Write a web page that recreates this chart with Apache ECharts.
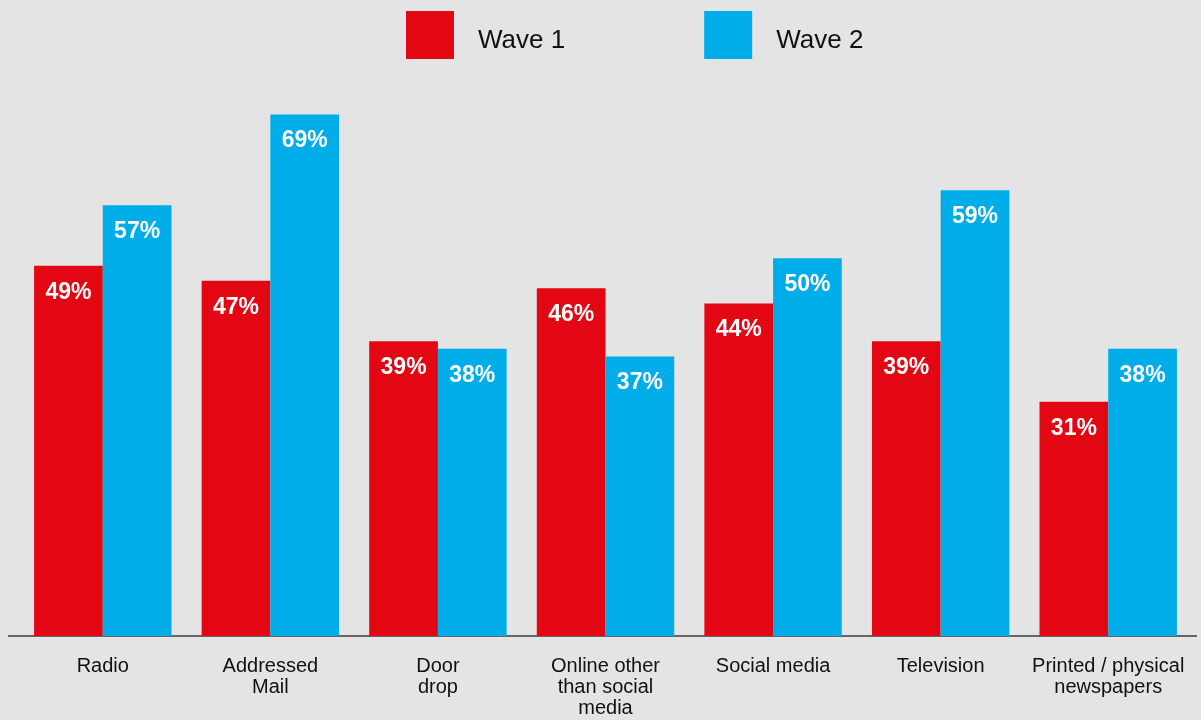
<!DOCTYPE html>
<html>
<head>
<meta charset="utf-8">
<style>
  html, body { margin: 0; padding: 0; background: #e3e4e3; }
  #chart { width: 1201px; height: 720px; }
</style>
<script src="https://cdn.jsdelivr.net/npm/echarts@6/dist/echarts.min.js"></script>
</head>
<body>
<div id="chart"></div>
<script>
// Channels shown along the bottom axis
const categories = [
  'Radio',
  'Addressed\nMail',
  'Door\ndrop',
  'Online other\nthan social\nmedia',
  'Social media',
  'Television',
  'Printed / physical\nnewspapers'
];
// Share of respondents, percent
const wave1 = [49, 47, 39, 46, 44, 39, 31];
const wave2 = [57, 69, 38, 37, 50, 59, 38];

const FONT = '"Liberation Sans", Arial, Helvetica, sans-serif';
const RED = '#e30613';
const BLUE = '#00ade8';

const chart = echarts.init(document.getElementById('chart'), null, { renderer: 'canvas' });

const barLabel = {
  show: true,
  position: 'insideTop',
  distance: 15,
  color: '#ffffff',
  fontFamily: FONT,
  fontWeight: 'bold',
  fontSize: 23,
  formatter: p => p.value + '%'
};

chart.setOption({
  backgroundColor: '#e3e4e3',
  animation: false,
  legend: {
    top: 11,
    left: 406,
    padding: 0,
    itemWidth: 48,
    itemHeight: 48,
    itemGap: 139,
    icon: 'rect',
    formatter: '{t|{name}}',
    textStyle: {
      fontFamily: FONT,
      fontSize: 26,
      color: '#111111',
      padding: [0, 0, 0, 19],
      rich: {
        t: {
          fontFamily: FONT,
          fontSize: 26,
          color: '#111111',
          padding: [12, 0, 0, 0]
        }
      }
    },
    data: ['Wave 1', 'Wave 2']
  },
  grid: { left: 19, right: 9, top: 107, bottom: 84 },
  xAxis: {
    type: 'category',
    data: categories,
    axisTick: { show: false },
    axisLine: { show: true, lineStyle: { color: '#666666', width: 2 } },
    axisLabel: {
      interval: 0,
      margin: 20,
      fontFamily: FONT,
      fontSize: 20,
      lineHeight: 21,
      color: '#111111',
      align: 'center'
    }
  },
  yAxis: {
    type: 'value',
    min: 0,
    max: 70,
    show: false,
    splitLine: { show: false }
  },
  series: [
    {
      name: 'Wave 1',
      type: 'bar',
      data: wave1,
      barGap: '0%',
      barCategoryGap: '18%',
      itemStyle: { color: RED },
      label: barLabel
    },
    {
      name: 'Wave 2',
      type: 'bar',
      data: wave2,
      barGap: '0%',
      barCategoryGap: '18%',
      itemStyle: { color: BLUE },
      label: barLabel
    }
  ]
});

// Extend the baseline a little past both ends of the plot area
const base = chart.convertToPixel({ gridIndex: 0 }, [0, 0]);
const leftEdge = chart.convertToPixel({ xAxisIndex: 0 }, 0) - 1173 / 7 / 2;
chart.setOption({
  graphic: [{
    type: 'line',
    shape: { x1: 8, y1: base[1], x2: leftEdge + 1, y2: base[1] },
    style: { stroke: '#666666', lineWidth: 2 },
    z: 10
  }, {
    type: 'line',
    shape: { x1: 1192 - 1, y1: base[1], x2: 1197, y2: base[1] },
    style: { stroke: '#666666', lineWidth: 2 },
    z: 10
  }]
});
</script>
</body>
</html>
